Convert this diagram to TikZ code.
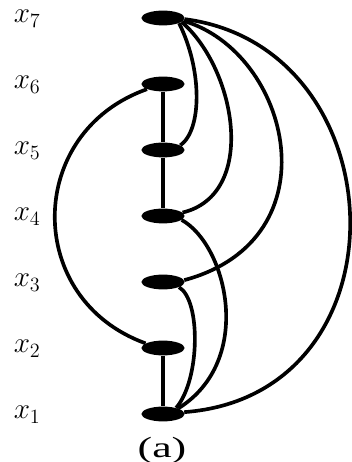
\documentclass[tikz,border=0pt]{standalone}
\usepackage{fontspec}
\setmainfont{Liberation Serif}
\usepackage{tikz}
\usetikzlibrary{shapes.geometric}

\begin{document}
\begin{tikzpicture}[
    vtx/.style={ellipse, fill=black, minimum width=1.08cm, minimum height=0.37cm, inner sep=0pt},
    lbl/.style={anchor=base west, scale=1.2, font=\fontsize{17}{20}\selectfont},
    wire/.style={line width=2.6pt, draw=black}
]
    \useasboundingbox (-4.075,-1.2) rectangle (4.7,10.35);

    % Sommets
    \node[vtx] (x1) at (0, 0) {};
    \node[vtx] (x2) at (0, 1.65) {};
    \node[vtx] (x3) at (0, 3.3) {};
    \node[vtx] (x4) at (0, 4.95) {};
    \node[vtx] (x5) at (0, 6.6) {};
    \node[vtx] (x6) at (0, 8.25) {};
    \node[vtx] (x7) at (0, 9.9) {};

    % Etiquettes
    \node[lbl] (l1) at (-3.88, -0.12) {$x_1$};
    \node[lbl] (l2) at (-3.88, 1.53) {$x_2$};
    \node[lbl] (l3) at (-3.88, 3.18) {$x_3$};
    \node[lbl] (l4) at (-3.88, 4.83) {$x_4$};
    \node[lbl] (l5) at (-3.88, 6.48) {$x_5$};
    \node[lbl] (l6) at (-3.88, 8.13) {$x_6$};
    \node[lbl] (l7) at (-3.88, 9.78) {$x_7$};

    \node[scale=1.3] (cap) at (-0.025, -0.91) {\fontsize{16}{18}\selectfont\scalebox{1.5}[1]{(a)}};

    % Aretes droites
    \draw[wire] (x6) -- (x5);
    \draw[wire] (x5) -- (x4);
    \draw[wire] (x2) -- (x1);

    % Aretes courbes
    \draw[wire] (x6.198) .. controls +(-3.05,-1.075) and +(-3.05,1.1) .. (x2.165);
    \draw[wire] (x7.-18) .. controls +(0.575,-1.15) and +(0.55,0.4) .. (x5.15);
    \draw[wire] (x7.-12) .. controls +(1.375,-1.2) and +(1.875,0.45) .. (x4.10);
    \draw[wire] (x7.-8) .. controls +(2.675,-0.775) and +(3.8,1.025) .. (x3.5);
    \draw[wire] (x7.-3) .. controls +(5.375,-0.7) and +(5.675,0.425) .. (x1.5);
    \draw[wire] (x4.-12) .. controls +(1.125,-0.625) and +(1.925,1.2) .. (x1.20);
    \draw[wire] (x3.-18) .. controls +(0.55,-0.325) and +(0.6,0.7) .. (x1.25);

\end{tikzpicture}
\end{document}
